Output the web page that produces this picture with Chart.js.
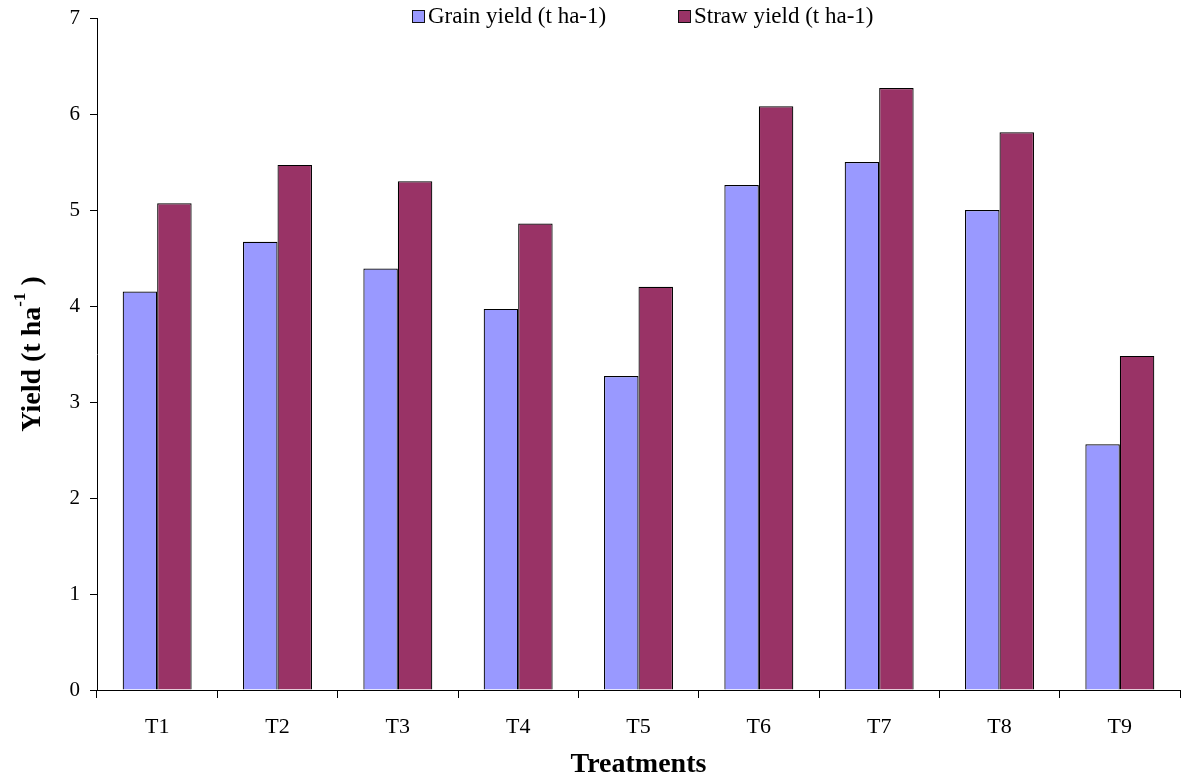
<!DOCTYPE html>
<html>
<head>
<meta charset="utf-8">
<script src="https://cdn.jsdelivr.net/npm/chart.js@4.4.1/dist/chart.umd.min.js"></script>
<style>
  html, body { margin: 0; padding: 0; background: #fff; }
  #wrap { width: 1193px; height: 782px; position: relative; }
</style>
</head>
<body>
<div id="wrap"><canvas id="c" width="1193" height="782"></canvas></div>
<script>
const categories = ['T1', 'T2', 'T3', 'T4', 'T5', 'T6', 'T7', 'T8', 'T9'];
const grainYield = [4.15, 4.67, 4.39, 3.97, 3.27, 5.26, 5.50, 5.00, 2.56];
const strawYield = [5.07, 5.47, 5.30, 4.86, 4.20, 6.08, 6.27, 5.81, 3.48];
const seriesLabels = ['Grain yield (t ha-1)', 'Straw yield (t ha-1)'];
const yTicks = [0, 1, 2, 3, 4, 5, 6, 7];

const FONT = '"Liberation Serif", "Times New Roman", serif';

const customText = {
  id: 'customText',
  afterDraw(chart) {
    const ctx = chart.ctx;
    const area = chart.chartArea;
    ctx.save();
    // Legend
    ctx.font = '23px ' + FONT;
    ctx.textBaseline = 'middle';
    ctx.textAlign = 'left';
    const legendX = [412, 678];
    const ly = 16;
    chart.data.datasets.forEach((ds, i) => {
      const x = legendX[i];
      ctx.fillStyle = ds.backgroundColor;
      ctx.fillRect(x, ly - 6, 13, 13);
      ctx.strokeStyle = '#111';
      ctx.lineWidth = 1;
      ctx.strokeRect(x + 0.5, ly - 5.5, 12, 12);
      ctx.fillStyle = '#000';
      ctx.fillText(ds.label, x + 16, ly + 1);
    });
    // Y axis title with superscript
    const cy = (area.top + area.bottom) / 2;
    ctx.translate(31, cy);
    ctx.rotate(-Math.PI / 2);
    const mainFont = 'bold 28px ' + FONT;
    const supFont = 'bold 17px ' + FONT;
    const p1 = 'Yield (t ha', p2 = '-1', p3 = ' )';
    ctx.font = mainFont; const w1 = ctx.measureText(p1).width; const w3 = ctx.measureText(p3).width;
    ctx.font = supFont; const w2 = ctx.measureText(p2).width;
    let x0 = -(w1 + w2 + w3) / 2;
    ctx.fillStyle = '#000';
    ctx.textBaseline = 'alphabetic';
    ctx.font = mainFont; ctx.fillText(p1, x0, 9);
    ctx.font = supFont; ctx.fillText(p2, x0 + w1, -6);
    ctx.font = mainFont; ctx.fillText(p3, x0 + w1 + w2, 9);
    ctx.restore();
  }
};

new Chart(document.getElementById('c'), {
  type: 'bar',
  data: {
    labels: categories,
    datasets: [
      { label: seriesLabels[0], data: grainYield, backgroundColor: '#9999FF', borderColor: '#000', borderWidth: 1.2 },
      { label: seriesLabels[1], data: strawYield, backgroundColor: '#993366', borderColor: '#000', borderWidth: 1.2 }
    ]
  },
  options: {
    responsive: false,
    animation: false,
    devicePixelRatio: 1,
    layout: { padding: { top: 18, right: 13, left: 0, bottom: 0 } },
    datasets: { bar: { categoryPercentage: 0.573, barPercentage: 1.0 } },
    plugins: { legend: { display: false }, tooltip: { enabled: false } },
    scales: {
      x: {
        grid: { offset: true, drawOnChartArea: false, drawTicks: true, tickLength: 8, tickColor: '#000', tickWidth: 1 },
        border: { display: true, color: '#000', width: 1 },
        ticks: { color: '#000', font: { family: FONT, size: 22 }, padding: 16, maxRotation: 0 },
        title: { display: true, text: 'Treatments', color: '#000', font: { family: FONT, size: 28, weight: 'bold' }, padding: 0 },
        afterFit(scale) { scale.height = 92; }
      },
      y: {
        min: 0, max: 7,
        afterBuildTicks(scale) { scale.ticks = yTicks.map(v => ({ value: v })); },
        grid: { drawOnChartArea: false, drawTicks: true, tickLength: 7, tickColor: '#000', tickWidth: 1 },
        border: { display: true, color: '#000', width: 1 },
        ticks: { color: '#000', font: { family: FONT, size: 21, lineHeight: 0.7 }, padding: 10 },
        afterFit(scale) { scale.width = 97; }
      }
    }
  },
  plugins: [customText]
});
</script>
</body>
</html>
